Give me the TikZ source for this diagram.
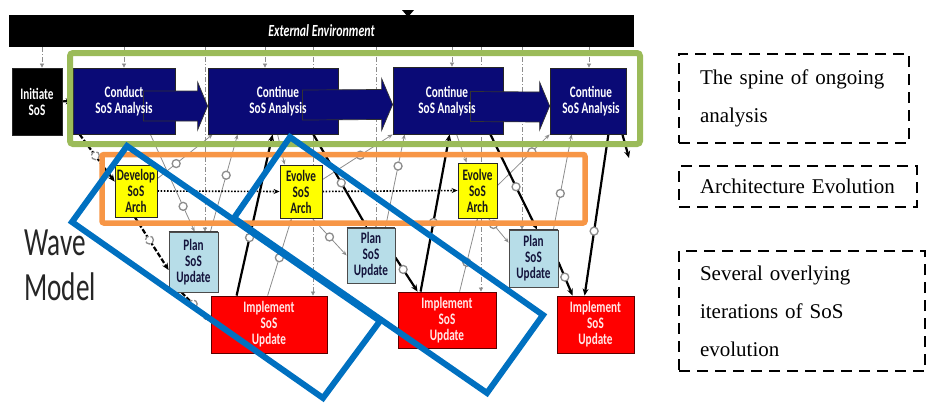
\documentclass[tikz,border=0pt]{standalone}
\usepackage{fontspec}
\setmainfont{Liberation Serif}
\newfontfamily\condfont[FakeStretch=0.7]{Carlito}
\newfontfamily\wavefont[FakeStretch=0.68]{Carlito}
\usetikzlibrary{arrows.meta,calc}
\pgfdeclarelayer{back}
\pgfsetlayers{back,main}
\definecolor{navyblk}{RGB}{10,10,118}
\definecolor{spinegreen}{RGB}{155,187,89}
\definecolor{archorange}{RGB}{247,150,70}
\definecolor{iterblue}{RGB}{0,112,192}
\definecolor{planblue}{RGB}{183,221,232}
\definecolor{plantext}{RGB}{20,20,60}
\definecolor{wiregray}{RGB}{140,140,140}
\definecolor{redbox}{RGB}{255,0,0}
\definecolor{redrim}{RGB}{90,0,0}
\definecolor{redtext}{RGB}{255,232,232}
\definecolor{yelbox}{RGB}{255,255,0}
\begin{document}
\begin{tikzpicture}[x=1pt,y=-1pt,
  box/.style={draw=black!85, line width=0.8, inner sep=0, align=center},
  anbox/.style={box, fill=navyblk},
  antext/.style={inner sep=0, align=center, text=white,
    font=\condfont\bfseries\fontsize{16}{16}\selectfont},
  archbox/.style={box, fill=yelbox, text=black!90,
    font=\condfont\bfseries\fontsize{16}{16}\selectfont},
  planbox/.style={box, draw=black!70, fill=planblue, text=plantext,
    font=\condfont\bfseries\fontsize{16}{16}\selectfont},
  implbox/.style={box, draw=redrim, fill=redbox, text=redtext,
    font=\condfont\bfseries\fontsize{16}{16}\selectfont},
  vline/.style={draw=wiregray, line width=0.7, dash pattern=on 5 off 2 on 1 off 2,
    -{Triangle[length=4,width=4]}},
  wire/.style={draw=wiregray, line width=0.8, -{Stealth[length=5,width=4]}},
  heavy/.style={draw=black, line width=2.2, -{Stealth[length=7,width=6]}},
  heavydash/.style={heavy, dash pattern=on 5 off 2},
  ring/.style={circle, draw=wiregray, fill=white, line width=1.3,
    minimum size=8, inner sep=0},
  dotarrow/.style={draw=black, line width=1.6, dash pattern=on 1.6 off 1.6,
    -{Stealth[length=6,width=5]}},
  navyarrow/.style={fill=navyblk, draw=black!80, line width=0.7},
  spine/.style={draw=spinegreen, line width=6, rounded corners=3},
  archframe/.style={draw=archorange, line width=5.5, rounded corners=2},
  iterframe/.style={draw=iterblue, line width=6, line join=miter},
  notebox/.style={draw=black, line width=2.2, dash pattern=on 11 off 7,
    inner xsep=0, align=left, font=\fontsize{21}{38}\selectfont},
  wavetext/.style={inner sep=0, text=black!85,
    font=\wavefont\fontsize{40}{40}\selectfont}]
\useasboundingbox (0,0) rectangle (932,402);

% external environment band and its marker
\node[fill=black, minimum width=625, minimum height=32, inner sep=0, text=white,
  font=\condfont\bfseries\itshape\fontsize{17}{17}\selectfont] (env) at (321.5,31)
  {External Environment};
\fill (402,10) -- (414,10) -- (408,17) -- cycle;

% analysis spine
\node[box, fill=black, text=white, minimum width=50, minimum height=67,
  font=\condfont\bfseries\fontsize{16}{16}\selectfont] (init) at (37,101.5) {Initiate\\SoS};
\node[anbox, minimum width=102, minimum height=66] (conduct) at (124,101) {};
\node[anbox, minimum width=130, minimum height=66] (cont1) at (273,101) {};
\node[anbox, minimum width=110, minimum height=67] (cont2) at (448,100.5) {};
\node[anbox, minimum width=76, minimum height=66] (cont3) at (588,101) {};

% architecture steps
\node[archbox, minimum width=42, minimum height=52] (develop) at (136,191) {Develop\\SoS\\Arch};
\node[archbox, minimum width=42, minimum height=53] (evolve1) at (301,191.5) {Evolve\\SoS\\Arch};
\node[archbox, minimum width=39, minimum height=55] (evolve2) at (477.5,190.5) {Evolve\\SoS\\Arch};

% planning steps
\node[planbox, minimum width=49, minimum height=60] (plan1) at (193.5,262) {Plan\\SoS\\Update};
\node[planbox, minimum width=48, minimum height=55] (plan2) at (371,255.5) {Plan\\SoS\\Update};
\node[planbox, minimum width=49, minimum height=57] (plan3) at (533.5,258.5) {Plan\\SoS\\Update};
\foreach \p in {plan1,plan2,plan3}
  \draw[line width=1.6, black!75] (\p.north west) -- (\p.north east);

% implementation steps
\node[implbox, minimum width=116, minimum height=57] (impl1) at (269,324.5) {Implement\\SoS\\Update};
\node[implbox, minimum width=98, minimum height=56] (impl2) at (447,320) {Implement\\SoS\\Update};
\node[implbox, minimum width=77, minimum height=57] (impl3) at (595.5,324.5) {Implement\\SoS\\Update};

% columns dropping from the environment band
\coordinate (x1) at (42,0);  \coordinate (x2) at (124,0);
\coordinate (x3) at (205,0); \coordinate (x4) at (265,0);
\coordinate (x5) at (313,0); \coordinate (x6) at (376,0);
\coordinate (x7) at (452,0); \coordinate (x8) at (481,0);
\coordinate (x9) at (522,0); \coordinate (x10) at (589,0);
\coordinate (exitpt) at (629,158);

\begin{pgfonlayer}{back}
  \draw[vline] (x1 |- env.south) -- (x1 |- init.north);
  \draw[vline] (x2 |- env.south) -- (x2 |- conduct.north);
  \draw[vline] (x3 |- env.south) -- (x3 |- plan1.north);
  \draw[vline] (x4 |- env.south) -- (x4 |- cont1.north);
  \draw[vline] (x5 |- env.south) -- (x5 |- impl1.north);
  \draw[vline] (x6 |- env.south) -- (x6 |- plan2.north);
  \draw[vline] (x7 |- env.south) -- (x7 |- cont2.north);
  \draw[vline] (x8 |- env.south) -- (x8 |- impl2.north);
  \draw[vline] (x9 |- env.south) -- (x9 |- plan3.north);
  \draw[vline] (x10 |- env.south) -- (x10 |- cont3.north);

  % thin feedback wires
  \draw[wire] ($(develop.north east)+(0,14)$) -- ($(cont1.south west)+(5,0)$) node[ring,pos=.34] (g1) {};
  \draw[wire] ($(conduct.south east)+(-25,0)$) -- ($(plan1.north west)+(26,0)$) node[ring,pos=.74] (g2) {};
  \draw[wire] ($(plan1.north east)+(-8,0)$) -- ($(cont1.south west)+(30,0)$) node[ring,pos=.58] (g3) {};
  \draw[wire] ($(impl1.north west)+(57,0)$) -- ($(evolve1.south west)+(12,0)$) node[ring,pos=.49] (g4) {};
  \draw[wire] ($(cont1.south west)+(70,0)$) -- ($(evolve1.north west)+(5,0)$);
  \draw[wire] ($(cont2.south west)+(64,0)$) -- ($(evolve2.north west)+(9,0)$);
  \draw[wire] ($(evolve1.north east)+(0,15)$) -- (cont2.south west) node[ring,pos=.54] (g6) {};
  \draw[wire] ($(evolve1.south east)+(-10,0)$) -- (plan2.west) node[ring,pos=.5] (g7) {};
  \draw[wire] ($(plan2.north east)+(-10,0)$) -- ($(cont2.south west)+(12,0)$) node[ring,pos=.66] (g8) {};
  \draw[wire] ($(impl2.north west)+(62,0)$) -- ($(evolve2.south west)+(20,0)$) node[ring,pos=.4] (g9) {};
  \draw[wire] ($(evolve2.north east)+(0,23)$) -- (cont3.south west) node[ring,pos=.66] (g10) {};
  \draw[wire] ($(evolve2.south east)+(-9,0)$) -- ($(plan3.north west)+(0,13)$) node[ring,pos=.25] (g11) {};
  \draw[wire] ($(plan3.north east)+(-5,0)$) -- ($(cont3.south west)+(22,0)$) node[ring,pos=.38] (g12) {};

  % main wave path
  \draw[heavy] (init) -- (conduct);
  \draw[heavydash] ($(conduct.south west)+(7,0)$) -- ($(develop.north west)+(0,17)$) node[ring,pos=.45] (t1) {};
  \draw[heavydash] ($(develop.south)+(-1,0)$) -- ($(plan1.west)+(0,8)$) node[ring,pos=.43] (t2) {};
  \draw[heavydash] ($(plan1.south west)+(13,0)$) -- ($(impl1.west)+(0,-3)$) node[ring,pos=.4] (t3) {};
  \draw[heavy] ($(impl1.north west)+(26,0)$) -- ($(cont1.south west)+(65,0)$) node[ring,pos=.36] (t4) {};
  \draw[heavy] ($(cont1.south east)+(-25,0)$) -- ($(plan2.north)+(-4,0)$) node[ring,pos=.52] (t5) {};
  \draw[heavy] ($(plan2.east)+(0,2)$) -- ($(impl2.north west)+(20,0)$) node[ring,pos=.35] (t6) {};
  \draw[heavy] ($(impl2.north west)+(23,0)$) -- ($(cont2.south west)+(57,0)$) node[ring,pos=.44] (t7) {};
  \draw[heavy] ($(cont2.south east)+(-13,0)$) -- ($(plan3.north)+(3.5,0)$) node[ring,pos=.55] (t8) {};
  \draw[heavy] ($(plan3.east)+(0,3.5)$) -- ($(impl3.north west)+(16,0)$) node[ring,pos=.45] (t9) {};
  \draw[heavy] ($(cont3.south east)+(-18,0)$) -- ($(impl3.north west)+(28,0)$) node[ring,pos=.6] (t10) {};
  \draw[heavy] ($(cont3.south east)+(-4,0)$) -- (exitpt);

  % architecture hand-offs
  \draw[dotarrow] (develop.east) -- (evolve1.west);
  \draw[dotarrow] (evolve1.east) -- (evolve2.west);
\end{pgfonlayer}

% broad arrows linking the analyses
\filldraw[navyarrow] ($(conduct.east)+(-32,-10)$) -- ($(cont1.west)+(-10,-10)$)
  -- ($(cont1.west)+(-10,-19)$) -- ($(cont1.west)+(0,5)$) -- ($(cont1.west)+(-10,29)$)
  -- ($(cont1.west)+(-10,20)$) -- ($(conduct.east)+(-32,20)$) -- cycle;
\filldraw[navyarrow] ($(cont1.east)+(-36,-11)$) -- ($(cont2.west)+(-11,-11)$)
  -- ($(cont2.west)+(-11,-22)$) -- ($(cont2.west)+(0,4)$) -- ($(cont2.west)+(-11,30)$)
  -- ($(cont2.west)+(-11,19)$) -- ($(cont1.east)+(-36,19)$) -- cycle;
\filldraw[navyarrow] ($(cont2.east)+(-33,-9)$) -- ($(cont3.west)+(-10,-9)$)
  -- ($(cont3.west)+(-10,-19)$) -- ($(cont3.west)+(0,5)$) -- ($(cont3.west)+(-10,29)$)
  -- ($(cont3.west)+(-10,21)$) -- ($(cont2.east)+(-33,21)$) -- cycle;

\node[antext] (conduct-t) at (124,101.5) {Conduct\\SoS Analysis};
\node[antext] (cont1-t) at (278,101.5) {Continue\\SoS Analysis};
\node[antext] (cont2-t) at (447,101.5) {Continue\\SoS Analysis};
\node[antext] (cont3-t) at (591,101.5) {Continue\\SoS Analysis};

% highlight frames
\draw[spine] (70,53) rectangle (640,144);
\draw[archframe] (102,154.5) rectangle (585,223);
\draw[iterframe] (127,146) -- (380,321) -- (323,398) -- (72,222) -- cycle;
\draw[iterframe] (290,137) -- (543,315) -- (487,393) -- (234,218) -- cycle;

% title
\node[wavetext, anchor=base west] (wave) at (24,255) {Wave};
\node[wavetext, anchor=base west] (model) at (24,300) {Model};

% notes
\node[notebox, minimum width=230, minimum height=89, text width=188] (spine-note)
  at (794,98.5) {The spine of ongoing\\analysis};
\node[notebox, minimum width=238, minimum height=41, text width=196] (arch-note)
  at (798,186.5) {Architecture Evolution};
\node[notebox, minimum width=246, minimum height=120, text width=204] (iter-note)
  at (802,311) {Several overlying\\iterations of SoS\\evolution};
\end{tikzpicture}
\end{document}
